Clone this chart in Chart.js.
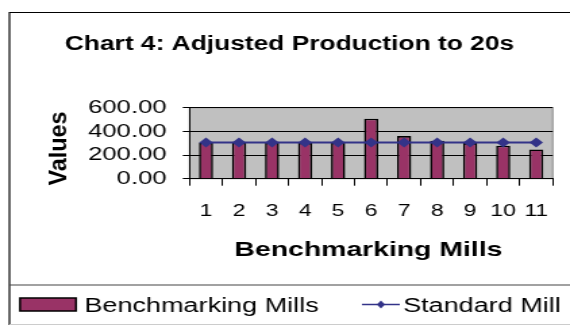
<!DOCTYPE html>
<html>
<head>
<meta charset="utf-8">
<script src="https://cdn.jsdelivr.net/npm/chart.js@4/dist/chart.umd.min.js"></script>
<style>
  html, body { margin: 0; padding: 0; background: #fff; overflow: hidden; }
  #wrap { position: absolute; left: 0; top: 0; width: 422px; height: 325px;
          transform-origin: 0 0; transform: scaleX(1.3507); }
  canvas { display: block; }
</style>
</head>
<body>
<div id="wrap"><canvas id="c" width="422" height="325"></canvas></div>
<script>
// ---- data ----
const categories = ['1','2','3','4','5','6','7','8','9','10','11'];
const benchmarkingMills = [305, 305, 305, 302, 305, 507, 360, 321, 301, 279, 247];
const standardMill = [305, 305, 305, 305, 305, 305, 305, 305, 305, 305, 305];
const yTickValues = [0, 200, 400, 600];
const yTickLabels = ['0.00', '200.00', '400.00', '600.00'];
const seriesNames = ['Benchmarking Mills', 'Standard Mill'];
const chartTitle = 'Chart 4: Adjusted Production to 20s';
const xTitle = 'Benchmarking Mills';
const yTitle = 'Values';

const FONT = '"Liberation Sans", Arial, Helvetica, sans-serif';
const BAR = '#993366';
const LINE = '#333388';

const decor = {
  id: 'decor',
  beforeDraw(chart) {
    const ctx = chart.ctx, a = chart.chartArea;
    ctx.save();
    ctx.fillStyle = '#C0C0C0';
    ctx.fillRect(a.left, a.top, a.right - a.left, a.bottom - a.top);
    ctx.strokeStyle = '#888';
    ctx.lineWidth = 1;
    ctx.strokeRect(a.left, a.top, a.right - a.left, a.bottom - a.top);
    ctx.restore();
  },
  afterDraw(chart) {
    const ctx = chart.ctx, a = chart.chartArea;
    ctx.save();
    // outer frame
    ctx.strokeStyle = '#000';
    ctx.lineWidth = 1.2;
    ctx.beginPath();
    ctx.moveTo(7, 330); ctx.lineTo(7, 12.5); ctx.lineTo(430, 12.5);
    ctx.stroke();
    ctx.strokeStyle = '#444';
    ctx.beginPath();
    ctx.moveTo(7, 285); ctx.lineTo(430, 285);
    ctx.stroke();
    ctx.strokeStyle = '#ccc';
    ctx.beginPath();
    ctx.moveTo(7, 324.5); ctx.lineTo(430, 324.5);
    ctx.stroke();

    // title
    ctx.fillStyle = '#000';
    ctx.textAlign = 'center';
    ctx.textBaseline = 'alphabetic';
    ctx.font = 'bold 19.5px ' + FONT;
    ctx.fillText(chartTitle, 214.3, 50);

    // x axis title
    ctx.font = 'bold 21px ' + FONT;
    ctx.fillText(xTitle, (a.left + a.right) / 2 - 2, 256);

    // y axis title (rotated)
    ctx.save();
    ctx.translate(48.5, 148.5);
    ctx.rotate(-Math.PI / 2);
    ctx.scale(1.3, 1);
    ctx.font = 'bold 18px ' + FONT;
    ctx.textAlign = 'center';
    ctx.fillText(yTitle, 0, 0);
    ctx.restore();

    // legend
    ctx.fillStyle = BAR;
    ctx.fillRect(14.8, 298, 41.5, 13);
    ctx.strokeStyle = '#000';
    ctx.lineWidth = 1.5;
    ctx.strokeRect(14.8, 298, 41.5, 13);
    ctx.fillStyle = '#000';
    ctx.textAlign = 'left';
    ctx.font = '20px ' + FONT;
    ctx.fillText(seriesNames[0], 62.5, 312);

    ctx.strokeStyle = LINE;
    ctx.lineWidth = 1.5;
    ctx.beginPath();
    ctx.moveTo(268, 304.5); ctx.lineTo(296, 304.5);
    ctx.stroke();
    ctx.fillStyle = LINE;
    ctx.beginPath();
    ctx.moveTo(282, 300.5); ctx.lineTo(285, 304.5); ctx.lineTo(282, 308.5); ctx.lineTo(279, 304.5);
    ctx.closePath(); ctx.fill();
    ctx.fillStyle = '#000';
    ctx.fillText(seriesNames[1], 298.4, 312);
    ctx.restore();
  }
};

new Chart(document.getElementById('c'), {
  data: {
    labels: categories,
    datasets: [
      {
        type: 'line', label: seriesNames[1], data: standardMill,
        borderColor: LINE, backgroundColor: LINE, borderWidth: 2,
        pointStyle: 'rectRot', pointRadius: 5, pointBackgroundColor: LINE,
        pointBorderColor: LINE, pointBorderWidth: 0, tension: 0, order: 0
      },
      {
        type: 'bar', label: seriesNames[0], data: benchmarkingMills,
        backgroundColor: BAR, borderColor: '#000', borderWidth: 1.6,
        barPercentage: 0.43, categoryPercentage: 1, order: 1
      }
    ]
  },
  options: {
    responsive: false, animation: false,
    layout: { padding: { left: 0, right: 12.8, top: 107.7, bottom: 106.3 } },
    plugins: { legend: { display: false }, title: { display: false }, tooltip: { enabled: false } },
    scales: {
      x: {
        type: 'category', offset: true,
        grid: { offset: true, drawOnChartArea: false, drawTicks: true, tickLength: 7, color: '#000', lineWidth: 1 },
        border: { display: true, color: '#000', width: 1 },
        ticks: { color: '#000', font: { family: FONT, size: 17 }, padding: 15, maxRotation: 0, autoSkip: false },
        afterFit(s) { s.height = 40; }
      },
      y: {
        min: 0, max: 600,
        afterBuildTicks(s) { s.ticks = yTickValues.map(v => ({ value: v })); },
        grid: { drawOnChartArea: true, drawTicks: true, tickLength: 5, color: '#000', lineWidth: 1 },
        border: { display: true, color: '#000', width: 1 },
        ticks: {
          color: '#000', font: { family: FONT, size: 19 }, padding: 12, autoSkip: false,
          callback(v) { const i = yTickValues.indexOf(v); return i >= 0 ? yTickLabels[i] : ''; }
        },
        afterFit(s) { s.width = 140.3; }
      }
    }
  },
  plugins: [decor]
});
</script>
</body>
</html>
